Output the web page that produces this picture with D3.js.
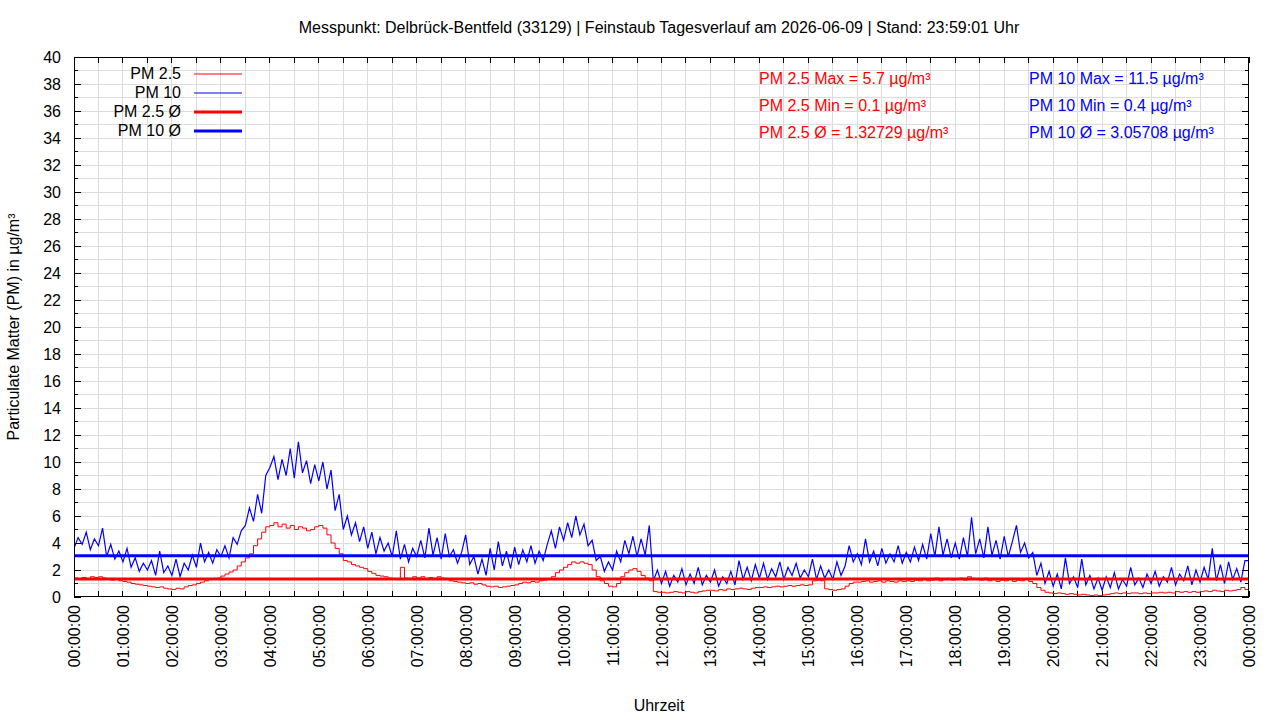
<!DOCTYPE html>
<html>
<head>
<meta charset="utf-8">
<script src="https://cdn.jsdelivr.net/npm/d3@7/dist/d3.min.js"></script>
<style>
  html, body { margin: 0; padding: 0; background: #fff; }
  svg { display: block; }
</style>
</head>
<body>
<div id="stage"></div>
<script>
// Feinstaub Tagesverlauf, one sample every 5 minutes from 00:00
const STEP_MIN = 5;

const pm25 = [
  1.4, 1.3, 1.45, 1.35, 1.5, 1.45, 1.5, 1.4, 1.3, 1.25, 1.3, 1.2,
  1.15, 1.1, 1.0, 0.95, 0.9, 0.85, 0.8, 0.75, 0.7, 0.75, 0.65, 0.6,
  0.55, 0.65, 0.6, 0.75, 0.85, 0.9, 1.0, 1.1, 1.2, 1.3, 1.35, 1.4,
  1.55, 1.7, 1.85, 2.0, 2.3, 2.6, 2.9, 3.2, 3.8, 4.3, 4.8, 5.2,
  5.3, 5.5, 5.2, 5.4, 5.1, 5.3, 5.0, 5.2, 5.1, 4.9, 5.0, 5.2,
  5.3, 5.1, 4.6, 4.0, 3.6, 3.2, 2.7, 2.6, 2.4, 2.3, 2.2, 2.1,
  1.9, 1.75, 1.6, 1.55, 1.5, 1.4, 1.35, 1.3, 2.2, 1.4, 1.35, 1.5,
  1.4, 1.5, 1.35, 1.45, 1.3, 1.5, 1.4, 1.35, 1.2, 1.15, 1.1, 1.05,
  1.0, 1.05, 0.95, 1.0, 0.9, 0.8, 0.75, 0.8, 0.7, 0.75, 0.8, 0.85,
  0.9, 1.0, 1.1, 1.05, 1.15, 1.1, 1.2, 1.25, 1.3, 1.5, 1.8, 2.0,
  2.2, 2.4, 2.6, 2.5, 2.6, 2.5, 2.4, 2.0, 1.5, 1.2, 1.0, 0.8,
  0.75, 1.0, 1.5, 1.8, 2.0, 2.1, 1.9, 1.6, 1.4, 1.2, 0.4, 0.35,
  0.35, 0.3, 0.35, 0.4, 0.35, 0.3, 0.4, 0.35, 0.3, 0.4, 0.45, 0.5,
  0.5, 0.45, 0.55, 0.5, 0.6, 0.55, 0.6, 0.65, 0.6, 0.55, 0.65, 0.7,
  0.7, 0.75, 0.7, 0.75, 0.8, 0.75, 0.8, 0.85, 0.8, 0.85, 0.9, 0.85,
  0.9, 1.2, 1.25, 1.2, 0.6, 0.55, 0.5, 0.55, 0.6, 0.8, 1.0, 1.1,
  1.1, 1.15, 1.2, 1.1, 1.15, 1.2, 1.1, 1.2, 1.15, 1.1, 1.2, 1.15,
  1.2, 1.15, 1.25, 1.2, 1.3, 1.2, 1.25, 1.4, 1.2, 1.3, 1.35, 1.25,
  1.3, 1.4, 1.25, 1.5, 1.3, 1.35, 1.25, 1.4, 1.2, 1.3, 1.15, 1.25,
  1.2, 1.3, 1.15, 1.25, 1.2, 1.3, 1.15, 1.0, 0.7, 0.5, 0.35, 0.3,
  0.25, 0.3, 0.25, 0.2, 0.25, 0.2, 0.15, 0.2, 0.15, 0.1, 0.15, 0.1,
  0.15, 0.2, 0.25, 0.3, 0.25, 0.3, 0.25, 0.3, 0.3, 0.25, 0.3, 0.25,
  0.3, 0.3, 0.35, 0.3, 0.35, 0.3, 0.4, 0.35, 0.4, 0.35, 0.4, 0.35,
  0.4, 0.45, 0.4, 0.5, 0.45, 0.4, 0.5, 0.45, 0.5, 0.55, 0.7, 0.55
];

const pm10 = [
  3.6, 4.4, 3.9, 4.8, 3.5, 4.3, 3.8, 5.1, 3.0, 3.9, 2.8, 3.4,
  2.6, 3.6, 2.2, 2.9, 1.9, 2.5, 2.0, 2.7, 1.6, 3.4, 1.8, 2.3,
  1.6, 2.8, 1.5, 2.5, 2.0, 3.1, 2.2, 4.0, 2.6, 3.3, 2.5, 3.5,
  3.0, 3.8, 2.9, 4.4, 3.9, 4.9, 5.3, 6.6, 5.6, 7.6, 6.2, 9.0,
  9.6, 10.4, 8.7, 10.2, 9.0, 11.0, 8.8, 11.5, 9.2, 10.1, 8.4, 9.8,
  8.6, 10.0, 8.0, 9.4, 6.4, 7.6, 5.0, 6.0, 4.6, 5.5, 4.1, 5.2,
  3.6, 4.8, 3.2, 4.4, 3.4, 4.0, 3.0, 4.9, 2.8, 3.9, 2.6, 3.6,
  3.0, 4.2, 2.9, 5.1, 3.1, 4.4, 2.8, 4.7, 3.0, 3.5, 2.5, 3.3,
  4.6, 2.4, 3.0, 1.7, 2.8, 1.6, 3.6, 2.0, 4.1, 2.3, 3.4, 2.1,
  3.7, 2.4, 3.5, 2.6, 3.8, 2.5, 3.4, 2.7, 3.9, 4.9, 3.6, 5.2,
  4.2, 5.5, 4.4, 6.0, 4.6, 5.4, 3.8, 4.2, 2.7, 3.0, 1.9, 2.6,
  2.0, 3.4, 2.6, 4.2, 3.2, 4.5, 3.0, 4.3, 3.1, 5.3, 1.2, 2.0,
  1.0, 1.9, 0.8, 1.6, 1.1, 2.1, 0.9, 1.7, 1.0, 2.2, 0.9, 1.6,
  1.1, 2.0, 0.8, 1.5, 1.0, 1.9, 0.9, 2.7, 1.3, 2.2, 1.2, 2.4,
  1.4, 2.5, 1.3, 2.1, 1.5, 2.6, 1.3, 2.2, 1.6, 2.5, 1.4, 2.0,
  1.5, 2.8, 1.3, 2.3, 1.4, 2.0, 1.3, 2.6, 1.6, 2.3, 3.8, 2.6,
  3.2, 2.4, 4.3, 2.6, 3.4, 2.3, 3.6, 2.5, 3.2, 2.6, 3.8, 2.5,
  3.3, 2.6, 3.7, 2.7, 3.9, 2.8, 4.7, 3.0, 5.2, 3.1, 4.3, 2.9,
  4.0, 2.8, 4.4, 3.0, 5.9, 3.2, 4.3, 2.9, 5.2, 3.1, 4.2, 2.8,
  4.5, 3.0, 4.1, 5.3, 3.3, 4.0, 2.9, 3.3, 1.6, 2.5, 1.0, 1.9,
  0.8, 1.7, 0.6, 2.9, 1.0, 1.5, 0.7, 2.8, 0.9, 1.6, 0.6, 1.4,
  0.5, 1.5, 0.7, 1.8, 0.6, 1.3, 0.8, 2.2, 0.9, 1.4, 0.7, 1.7,
  1.0, 1.9, 0.8, 1.5, 1.1, 2.2, 0.9, 1.7, 1.2, 2.3, 0.9, 2.0,
  1.1, 2.2, 1.3, 3.6, 1.2, 2.4, 1.0, 2.6, 1.3, 2.1, 1.1, 2.7
];

const pm25Avg = 1.32729, pm10Avg = 3.05708;
const statsPm25 = ['PM 2.5 Max = 5.7 µg/m³', 'PM 2.5 Min = 0.1 µg/m³', 'PM 2.5 Ø = 1.32729 µg/m³'];
const statsPm10 = ['PM 10 Max = 11.5 µg/m³', 'PM 10 Min = 0.4 µg/m³', 'PM 10 Ø = 3.05708 µg/m³'];
const legendLabels = ['PM 2.5', 'PM 10', 'PM 2.5 Ø', 'PM 10 Ø'];
const yTicks = d3.range(0, 41, 2);
const hourTicks = d3.range(0, 1441, 60);

const RED = '#ff0000', BLUE = '#0000ff', GRID = '#dcdcdc';
const FONT = '"Liberation Sans", Arial, sans-serif';

const W = 1280, H = 720, mL = 74, mR = 31, mT = 57, mB = 123;
const svg = d3.select('#stage').append('svg').attr('width', W).attr('height', H);
const x = d3.scaleLinear().domain([0, 1440]).range([mL, W - mR]);
const y = d3.scaleLinear().domain([0, 40]).range([H - mB, mT]);

// grid: every unit vertically, every half hour horizontally
const grid = svg.append('g').attr('stroke', GRID).attr('stroke-width', 1).attr('shape-rendering', 'crispEdges');
d3.range(1, 40).forEach(v => {
  grid.append('line').attr('x1', mL).attr('x2', W - mR).attr('y1', y(v)).attr('y2', y(v));
});
d3.range(30, 1440, 30).forEach(m => {
  grid.append('line').attr('x1', x(m)).attr('x2', x(m)).attr('y1', mT).attr('y2', H - mB);
});

// ticks, mirrored on all four sides, pointing inwards
const tk = svg.append('g').attr('stroke', '#000').attr('stroke-width', 1).attr('shape-rendering', 'crispEdges');
d3.range(0, 41, 1).forEach(v => {
  const len = v % 2 === 0 ? 7 : 4;
  tk.append('line').attr('x1', mL).attr('x2', mL + len).attr('y1', y(v)).attr('y2', y(v));
  tk.append('line').attr('x1', W - mR).attr('x2', W - mR - len).attr('y1', y(v)).attr('y2', y(v));
});
d3.range(0, 1441, 30).forEach(m => {
  tk.append('line').attr('x1', x(m)).attr('x2', x(m)).attr('y1', H - mB).attr('y2', H - mB - 6);
  tk.append('line').attr('x1', x(m)).attr('x2', x(m)).attr('y1', mT).attr('y2', mT + 6);
});

// y tick labels
yTicks.forEach(v => {
  svg.append('text').attr('x', mL - 13).attr('y', y(v) + 6).attr('text-anchor', 'end')
    .attr('font-family', FONT).attr('font-size', 16).attr('fill', '#000').text(v);
});

// x tick labels, rotated
hourTicks.forEach(m => {
  const hh = String(Math.floor(m / 60) % 24).padStart(2, '0');
  svg.append('text').attr('transform', `translate(${x(m) + 6},${H - mB + 8}) rotate(-90)`)
    .attr('text-anchor', 'end').attr('font-family', FONT).attr('font-size', 16).attr('fill', '#000')
    .text(`${hh}:00:00`);
});

// data
const defs = svg.append('defs');
defs.append('clipPath').attr('id', 'plotClip').append('rect')
  .attr('x', mL).attr('y', mT).attr('width', W - mR - mL).attr('height', H - mB - mT);

const toPts = arr => arr.map((v, i) => ({ t: i * STEP_MIN, v }))
  .concat([{ t: 1440, v: arr[arr.length - 1] }]);
// PM 2.5 is smooth and stepped; PM 10 is a dense spiky trace
const stepLine = d3.line().x(d => x(d.t)).y(d => y(d.v)).curve(d3.curveStepAfter);
const spikyLine = d3.line().x(d => x(d.t)).y(d => y(d.v)).curve(d3.curveLinear);
const plot = svg.append('g').attr('clip-path', 'url(#plotClip)');
plot.append('path').datum(toPts(pm25)).attr('d', stepLine).attr('fill', 'none').attr('stroke', RED).attr('stroke-width', 1);
plot.append('path').datum(toPts(pm10)).attr('d', spikyLine).attr('fill', 'none').attr('stroke', BLUE).attr('stroke-width', 1.2);
plot.append('line').attr('x1', mL).attr('x2', W - mR).attr('y1', y(pm25Avg)).attr('y2', y(pm25Avg))
  .attr('stroke', RED).attr('stroke-width', 3);
plot.append('line').attr('x1', mL).attr('x2', W - mR).attr('y1', y(pm10Avg)).attr('y2', y(pm10Avg))
  .attr('stroke', BLUE).attr('stroke-width', 3);

// frame
svg.append('rect').attr('x', mL + 0.5).attr('y', mT + 0.5).attr('width', W - mR - mL - 1).attr('height', H - mB - mT - 1)
  .attr('fill', 'none').attr('stroke', '#000').attr('stroke-width', 1);

// legend
const legColors = [RED, BLUE, RED, BLUE], legWidths = [1, 1, 3, 3];
legendLabels.forEach((lab, i) => {
  const ly = 74 + i * 19;
  svg.append('text').attr('x', 181).attr('y', ly + 5).attr('text-anchor', 'end')
    .attr('font-family', FONT).attr('font-size', 16).attr('fill', '#000').text(lab);
  svg.append('line').attr('x1', 194).attr('x2', 242).attr('y1', ly).attr('y2', ly)
    .attr('stroke', legColors[i]).attr('stroke-width', legWidths[i]);
});

// stats
statsPm25.forEach((s, i) => {
  svg.append('text').attr('x', 759).attr('y', 84 + i * 27).attr('font-family', FONT).attr('font-size', 16)
    .attr('fill', RED).text(s);
});
statsPm10.forEach((s, i) => {
  svg.append('text').attr('x', 1029).attr('y', 84 + i * 27).attr('font-family', FONT).attr('font-size', 16)
    .attr('fill', BLUE).text(s);
});

// titles
svg.append('text').attr('x', 659).attr('y', 33).attr('text-anchor', 'middle')
  .attr('font-family', FONT).attr('font-size', 16).attr('fill', '#000')
  .text('Messpunkt: Delbrück-Bentfeld (33129) | Feinstaub Tagesverlauf am 2026-06-09 | Stand: 23:59:01 Uhr');
svg.append('text').attr('x', 659).attr('y', 711).attr('text-anchor', 'middle')
  .attr('font-family', FONT).attr('font-size', 16).attr('fill', '#000').text('Uhrzeit');
svg.append('text').attr('transform', `translate(19,${(mT + H - mB) / 2}) rotate(-90)`).attr('text-anchor', 'middle')
  .attr('font-family', FONT).attr('font-size', 16).attr('fill', '#000').text('Particulate Matter (PM) in µg/m³');
</script>
</body>
</html>
